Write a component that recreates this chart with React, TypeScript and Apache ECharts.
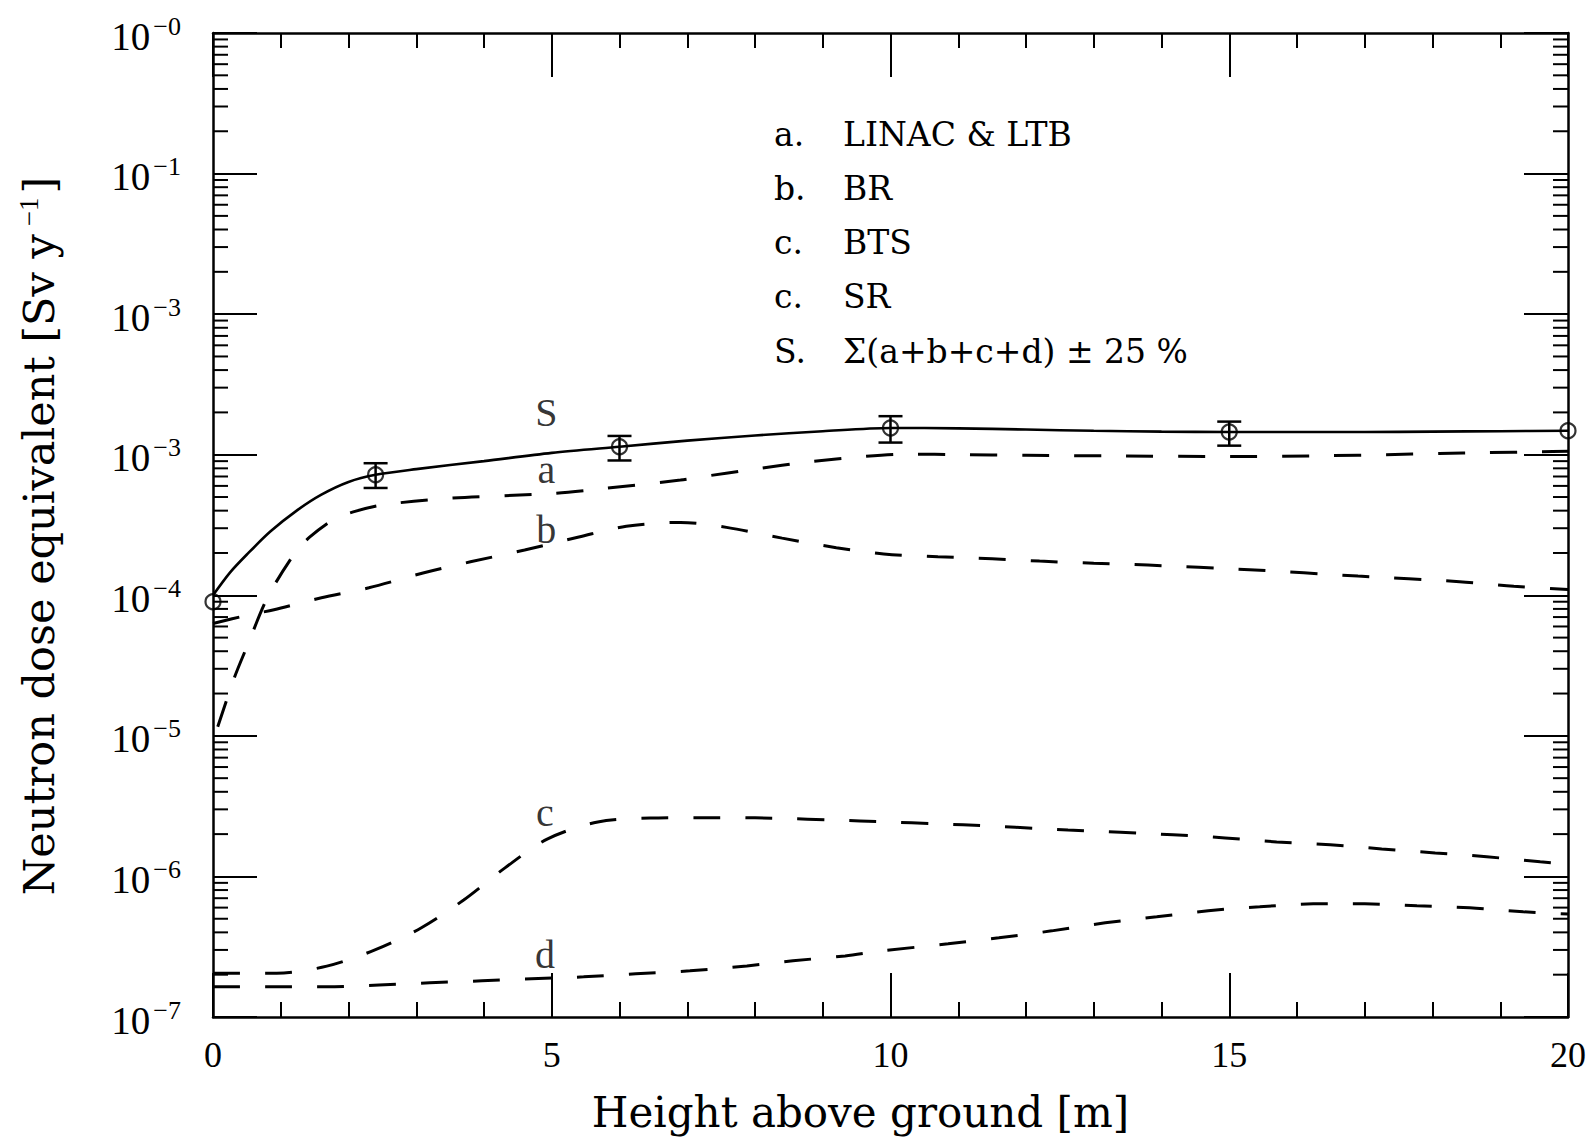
import React, { useEffect, useRef } from "react";
import * as echarts from "echarts";

// ---------- data ----------
const X_MIN = 0;
const X_MAX = 20;
const Y_MIN = 1e-7;
const Y_MAX = 1;

// y tick label exponents, top (1e0) to bottom (1e-7), as printed
const yTickExponents = ["−0", "−1", "−3", "−3", "−4", "−5", "−6", "−7"];

// S: sum curve (solid)
const sCurveX = [0, 0.25, 0.5, 0.85, 1.25, 1.6, 2.0, 2.4, 3, 4, 5, 6, 7, 8, 9, 10, 11, 12, 13, 14, 15, 16, 17, 18, 19, 20];
const sCurveY = [1.0e-4, 1.45e-4, 1.95e-4, 2.85e-4, 4.05e-4, 5.2e-4, 6.4e-4, 7.2e-4, 7.9e-4, 9.0e-4, 1.03e-3, 1.14e-3, 1.26e-3, 1.37e-3, 1.47e-3, 1.55e-3, 1.54e-3, 1.51e-3, 1.48e-3, 1.46e-3, 1.45e-3, 1.45e-3, 1.45e-3, 1.46e-3, 1.47e-3, 1.48e-3];

// S: marked points and error bars
const sPointX = [0, 2.4, 6, 10, 15, 20];
const sPointY = [9.0e-5, 7.2e-4, 1.14e-3, 1.55e-3, 1.45e-3, 1.48e-3];
const errX = [2.4, 6, 10, 15];
const errLow = [5.8e-4, 9.1e-4, 1.22e-3, 1.16e-3];
const errHigh = [8.7e-4, 1.36e-3, 1.88e-3, 1.72e-3];

// a. LINAC & LTB
const aX = [0.07, 0.32, 0.5, 0.81, 1.21, 1.43, 1.77, 2.07, 2.51, 3.5, 5, 5.7, 6.9, 7.2, 8, 8.8, 9.6, 10.3, 11, 12, 13.4, 15, 16.5, 17.3, 18.1, 18.8, 19.6, 20];
const aY = [1.16e-5, 2.63e-5, 4.3e-5, 9.75e-5, 2.0e-4, 2.6e-4, 3.44e-4, 3.92e-4, 4.4e-4, 4.9e-4, 5.3e-4, 5.7e-4, 6.6e-4, 6.95e-4, 7.9e-4, 8.9e-4, 9.7e-4, 1.01e-3, 1.0e-3, 9.9e-4, 9.8e-4, 9.7e-4, 9.85e-4, 1.0e-3, 1.02e-3, 1.035e-3, 1.05e-3, 1.06e-3];

// b. BR
const bX = [0, 0.5, 0.9, 1.6, 2.3, 3.1, 3.8, 4.6, 5.4, 6.1, 6.9, 7.6, 8.4, 9.2, 9.9, 10.7, 11.5, 12.2, 13.0, 13.8, 15.3, 16.9, 18.4, 19.2, 20];
const bY = [6.3e-5, 7.2e-5, 7.9e-5, 9.6e-5, 1.13e-4, 1.44e-4, 1.73e-4, 2.1e-4, 2.6e-4, 3.1e-4, 3.3e-4, 3.03e-4, 2.55e-4, 2.18e-4, 1.97e-4, 1.88e-4, 1.82e-4, 1.75e-4, 1.69e-4, 1.64e-4, 1.52e-4, 1.37e-4, 1.25e-4, 1.16e-4, 1.1e-4];

// c. BTS
const cX = [0, 0.94, 1.68, 2.39, 3.07, 3.7, 4.31, 4.94, 5.68, 6.45, 7.2, 8.0, 9.55, 11.07, 12.62, 14.17, 14.94, 15.7, 16.49, 17.25, 18.04, 18.8, 19.59, 20];
const cY = [2.05e-7, 2.05e-7, 2.3e-7, 3.0e-7, 4.3e-7, 6.8e-7, 1.15e-6, 1.85e-6, 2.44e-6, 2.6e-6, 2.62e-6, 2.61e-6, 2.48e-6, 2.33e-6, 2.14e-6, 1.98e-6, 1.88e-6, 1.76e-6, 1.68e-6, 1.57e-6, 1.47e-6, 1.38e-6, 1.27e-6, 1.22e-6];

// d. SR
const dX = [0, 0.94, 1.68, 2.45, 3.2, 3.97, 4.7, 5.47, 6.24, 7.04, 7.88, 8.56, 9.33, 9.9, 10.85, 11.6, 12.38, 13.17, 13.93, 14.69, 15.45, 16.24, 17.0, 17.77, 18.55, 19.34, 20];
const dY = [1.64e-7, 1.64e-7, 1.64e-7, 1.69e-7, 1.75e-7, 1.81e-7, 1.87e-7, 1.93e-7, 2.03e-7, 2.13e-7, 2.31e-7, 2.51e-7, 2.72e-7, 2.96e-7, 3.32e-7, 3.66e-7, 4.1e-7, 4.68e-7, 5.16e-7, 5.7e-7, 6.08e-7, 6.38e-7, 6.38e-7, 6.18e-7, 5.98e-7, 5.6e-7, 5.4e-7];

// curve letters placed next to the curves
const curveLabelNames = ["S", "a", "b", "c", "d"];
const curveLabelX = [4.92, 4.92, 4.92, 4.9, 4.9];
const curveLabelY = [2.0e-3, 7.8e-4, 2.92e-4, 2.83e-6, 2.77e-7];

// legend block
const legendKeys = ["a.", "b.", "c.", "c.", "S."];
const legendNames = ["LINAC & LTB", "BR", "BTS", "SR", "Σ(a+b+c+d) ± 25 %"];

// minor log ticks 2..9 per decade
const minorMultipliers = [2, 3, 4, 5, 6, 7, 8, 9];
const decadeExponents = [-7, -6, -5, -4, -3, -2, -1];

// ---------- helpers ----------
const pairs = (xs: number[], ys: number[]) => xs.map((x, i) => [x, ys[i]]);
const SERIF = '"Liberation Serif", "DejaVu Serif", serif';
const SLAB = '"DejaVu Serif", serif';
const BLACK = "#000";

export default function App() {
  const ref = useRef<HTMLDivElement>(null);

  useEffect(() => {
    if (!ref.current) return;
    const chart = echarts.init(ref.current, undefined, { renderer: "svg" });

    const minorTickData: number[][] = [];
    decadeExponents.forEach((e) =>
      minorMultipliers.forEach((k) => minorTickData.push([X_MIN, k * Math.pow(10, e)]))
    );

    const axisLine = { show: true, onZero: false, lineStyle: { color: BLACK, width: 2.5 } };
    const majorTick = { show: true, inside: true, length: 44, lineStyle: { color: BLACK, width: 2 } };
    const xMinor = { show: true, splitNumber: 5, length: 15, lineStyle: { color: BLACK, width: 2 } };

    const dashed = (name: string, xs: number[], ys: number[]) => ({
      name,
      type: "line",
      data: pairs(xs, ys),
      smooth: 0.3,
      showSymbol: false,
      symbol: "none",
      lineStyle: { color: BLACK, width: 3, type: [27, 25] },
      z: 3,
    });

    const legendGraphics: any[] = [];
    const rowY = [138, 192, 246, 300, 355];
    legendKeys.forEach((k, i) => {
      legendGraphics.push({
        type: "text",
        left: 774,
        top: rowY[i] - 20,
        style: { text: k, font: `33px ${SLAB}`, fill: BLACK },
      });
      legendGraphics.push({
        type: "text",
        left: 843,
        top: rowY[i] - 20,
        style: { text: legendNames[i], font: `33px ${SLAB}`, fill: BLACK },
      });
    });

    const option: any = {
      animation: false,
      backgroundColor: "#fff",
      grid: { left: 213, right: 25, top: 33, bottom: 125, containLabel: false },
      xAxis: [
        {
          type: "value",
          min: X_MIN,
          max: X_MAX,
          interval: 5,
          position: "bottom",
          name: "Height above ground [m]",
          nameLocation: "middle",
          nameGap: 70,
          nameTextStyle: { fontFamily: SLAB, fontSize: 42, color: BLACK, lineHeight: 50, padding: [0, 60, 0, 0] },
          axisLine,
          axisTick: majorTick,
          minorTick: xMinor,
          axisLabel: { show: true, margin: 20, fontFamily: SERIF, fontSize: 36, color: BLACK },
          splitLine: { show: false },
          minorSplitLine: { show: false },
        },
        {
          type: "value",
          min: X_MIN,
          max: X_MAX,
          interval: 5,
          position: "top",
          axisLine,
          axisTick: majorTick,
          minorTick: xMinor,
          axisLabel: { show: false },
          splitLine: { show: false },
          minorSplitLine: { show: false },
        },
      ],
      yAxis: [
        {
          type: "log",
          logBase: 10,
          min: Y_MIN,
          max: Y_MAX,
          position: "left",
          name: "{n|Neutron dose equivalent [Sv y}{s|−1}{n|]}",
          nameLocation: "middle",
          nameRotate: 90,
          nameGap: 150,
          nameTextStyle: {
            color: BLACK,
            padding: [0, 22, 0, 0],
            rich: {
              n: { fontFamily: SLAB, fontSize: 43, lineHeight: 48, color: BLACK },
              s: { fontFamily: SERIF, fontSize: 27, lineHeight: 27, verticalAlign: "top", color: BLACK, padding: [0, 4, 0, 8] },
            },
          },
          axisLine,
          axisTick: majorTick,
          axisLabel: {
            show: true,
            margin: 32,
            formatter: (v: number) => {
              const idx = Math.round(-Math.log10(v));
              return `{b|10}{s|${yTickExponents[idx] ?? ""}}`;
            },
            rich: {
              b: { fontFamily: SERIF, fontSize: 39, lineHeight: 40, color: BLACK, padding: [6, 0, 0, 0] },
              s: { fontFamily: SERIF, fontSize: 26, lineHeight: 26, verticalAlign: "top", color: BLACK, padding: [0, 0, 0, 3] },
            },
          },
          splitLine: { show: false },
          minorTick: { show: false },
          minorSplitLine: { show: false },
        },
        {
          type: "log",
          logBase: 10,
          min: Y_MIN,
          max: Y_MAX,
          position: "right",
          axisLine,
          axisTick: majorTick,
          axisLabel: { show: false },
          splitLine: { show: false },
          minorTick: { show: false },
        },
      ],
      graphic: legendGraphics,
      series: [
        {
          name: "S",
          type: "line",
          data: pairs(sCurveX, sCurveY),
          smooth: 0.3,
          showSymbol: false,
          symbol: "none",
          lineStyle: { color: BLACK, width: 2.6 },
          z: 3,
        },
        dashed("a", aX, aY),
        dashed("b", bX, bY),
        dashed("c", cX, cY),
        dashed("d", dX, dY),
        {
          name: "S points",
          type: "scatter",
          data: pairs(sPointX, sPointY),
          symbol: "circle",
          symbolSize: 15,
          clip: false,
          itemStyle: { color: "rgba(0,0,0,0)", borderColor: BLACK, borderWidth: 2.2 },
          z: 5,
        },
        {
          name: "error bars",
          type: "custom",
          clip: false,
          data: errX.map((x, i) => [x, errLow[i], errHigh[i]]),
          encode: { x: 0, y: [1, 2] },
          renderItem: (params: any, api: any) => {
            const x = api.value(0);
            const lo = api.coord([x, api.value(1)]);
            const hi = api.coord([x, api.value(2)]);
            const w = 12;
            const st = { stroke: BLACK, lineWidth: 2.5 };
            return {
              type: "group",
              children: [
                { type: "line", shape: { x1: lo[0], y1: lo[1], x2: hi[0], y2: hi[1] }, style: st },
                { type: "line", shape: { x1: lo[0] - w, y1: lo[1], x2: lo[0] + w, y2: lo[1] }, style: st },
                { type: "line", shape: { x1: hi[0] - w, y1: hi[1], x2: hi[0] + w, y2: hi[1] }, style: st },
              ],
            };
          },
          z: 5,
        },
        {
          name: "minor y ticks",
          type: "custom",
          clip: false,
          silent: true,
          data: minorTickData,
          renderItem: (params: any, api: any) => {
            const v = api.value(1);
            const l = api.coord([X_MIN, v]);
            const r = api.coord([X_MAX, v]);
            const st = { stroke: BLACK, lineWidth: 2 };
            return {
              type: "group",
              children: [
                { type: "line", shape: { x1: l[0], y1: l[1], x2: l[0] + 15, y2: l[1] }, style: st },
                { type: "line", shape: { x1: r[0], y1: r[1], x2: r[0] - 15, y2: r[1] }, style: st },
              ],
            };
          },
          z: 2,
        },
        {
          name: "curve letters",
          type: "scatter",
          clip: false,
          symbolSize: 1,
          itemStyle: { color: "rgba(0,0,0,0)" },
          data: curveLabelNames.map((n, i) => ({ name: n, value: [curveLabelX[i], curveLabelY[i]] })),
          label: {
            show: true,
            position: "inside",
            formatter: "{b}",
            fontFamily: SERIF,
            fontSize: 40,
            color: BLACK,
            textBorderWidth: 0,
            textBorderColor: "transparent",
          },
          z: 6,
        },
      ],
    };

    chart.setOption(option);
    return () => chart.dispose();
  }, []);

  return (
    <div
      ref={ref}
      style={{ position: "fixed", left: 0, top: 0, width: 1593, height: 1142, background: "#fff" }}
    />
  );
}
